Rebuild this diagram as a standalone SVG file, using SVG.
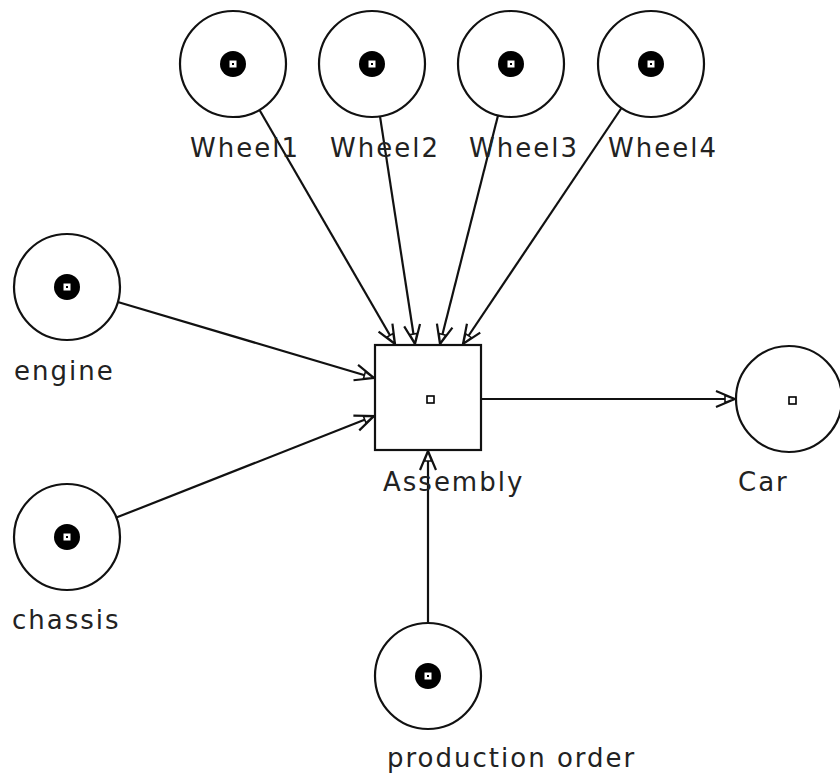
<svg xmlns="http://www.w3.org/2000/svg" width="840" height="773" viewBox="0 0 840 773">
  <style>
    .place { fill: #fff; stroke: #111; stroke-width: 2.2; }
    .trans { fill: #fff; stroke: #111; stroke-width: 2.2; }
    .tok { fill: #000; }
    .tokin { fill: #fff; stroke: #000; stroke-width: 1; }
    .mark { fill: #fff; stroke: #000; stroke-width: 1.6; }
    .lbl { font-family: "DejaVu Sans", sans-serif; font-size: 26px; letter-spacing: 2px; fill: #222; }
    .arc { stroke: #111; stroke-width: 2.2; fill: none; marker-end: url(#head); }
  </style>
  <defs>
    <marker id="head" viewBox="-22 -11 24 22" refX="0" refY="0" markerWidth="24" markerHeight="22" markerUnits="userSpaceOnUse" orient="auto">
      <path d="M -19 -8 L 0 0 L -19 8" fill="none" stroke="#111" stroke-width="2.2"/>
      <path d="M -1 0 L -10 -3.5 L -10 3.5 Z" fill="#fff" stroke="#111" stroke-width="1.6"/>
    </marker>
    <g id="token">
      <circle r="13" class="tok"/>
      <rect x="-4" y="-4" width="8" height="8" class="tokin"/>
      <rect x="-1" y="-1" width="2" height="2" fill="#000"/>
    </g>
  </defs>
  <rect width="840" height="773" fill="#fff"/>

  <g id="connectors">
    <line class="arc" x1="259.5" y1="110" x2="395" y2="344"/>
    <line class="arc" x1="380" y1="116.4" x2="415" y2="344"/>
    <line class="arc" x1="498" y1="115.4" x2="440" y2="344"/>
    <line class="arc" x1="621.5" y1="108" x2="463" y2="344"/>
    <line class="arc" x1="117.8" y1="302" x2="374" y2="378"/>
    <line class="arc" x1="116.3" y1="517.6" x2="374" y2="416"/>
    <line class="arc" x1="428" y1="623" x2="428" y2="451"/>
    <line class="arc" x1="482" y1="399" x2="735" y2="399"/>
  </g>

  <g id="wheel1">
    <circle class="place" cx="233" cy="64" r="53"/>
    <use href="#token" x="233" y="64"/>
    <text class="lbl" x="190" y="157">Wheel1</text>
  </g>
  <g id="wheel2">
    <circle class="place" cx="372" cy="64" r="53"/>
    <use href="#token" x="372" y="64"/>
    <text class="lbl" x="330" y="157">Wheel2</text>
  </g>
  <g id="wheel3">
    <circle class="place" cx="511" cy="64" r="53"/>
    <use href="#token" x="511" y="64"/>
    <text class="lbl" x="469" y="157">Wheel3</text>
  </g>
  <g id="wheel4">
    <circle class="place" cx="651" cy="64" r="53"/>
    <use href="#token" x="651" y="64"/>
    <text class="lbl" x="608" y="157">Wheel4</text>
  </g>
  <g id="engine">
    <circle class="place" cx="67" cy="287" r="53"/>
    <use href="#token" x="67" y="287"/>
    <text class="lbl" x="14" y="380">engine</text>
  </g>
  <g id="chassis">
    <circle class="place" cx="67" cy="537" r="53"/>
    <use href="#token" x="67" y="537"/>
    <text class="lbl" x="12" y="629">chassis</text>
  </g>
  <g id="production-order">
    <circle class="place" cx="428" cy="676" r="53"/>
    <use href="#token" x="428" y="676"/>
    <text class="lbl" x="387" y="767">production order</text>
  </g>
  <g id="assembly">
    <rect class="trans" x="375" y="345" width="106" height="105"/>
    <rect class="mark" x="427" y="396" width="7" height="7"/>
    <text class="lbl" x="383" y="491">Assembly</text>
  </g>
  <g id="car">
    <circle class="place" cx="789" cy="399" r="53"/>
    <rect class="mark" x="789" y="397" width="7" height="7"/>
    <text class="lbl" x="738" y="491">Car</text>
  </g>
</svg>
